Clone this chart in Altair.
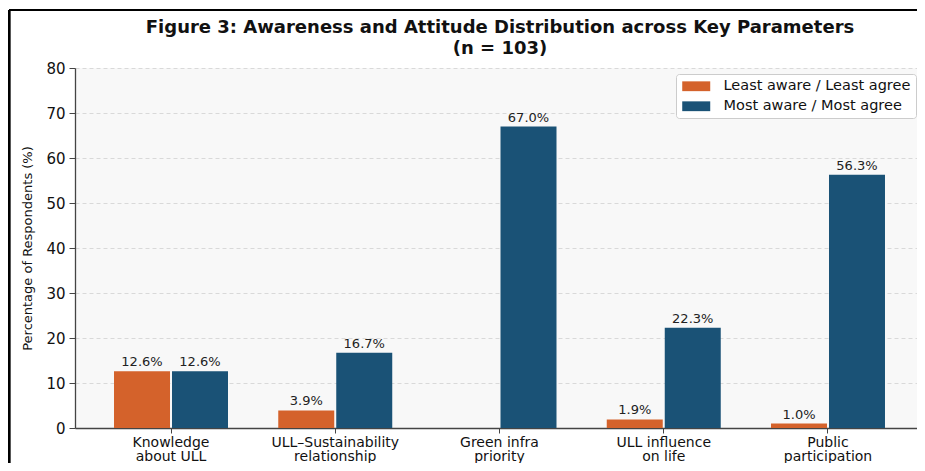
import altair as alt
import pandas as pd

categories = ["Knowledge about ULL", "ULL–Sustainability relationship", "Green infra priority",
              "ULL influence on life", "Public participation"]
tick_labels = [["Knowledge", "about ULL"], ["ULL–Sustainability", "relationship"], ["Green infra", "priority"],
               ["ULL influence", "on life"], ["Public", "participation"]]
series = ["Least aware / Least agree", "Most aware / Most agree"]
least = [12.6, 3.9, 0.0, 1.9, 1.0]
most = [12.6, 16.7, 67.0, 22.3, 56.3]
colors = ["#D4622B", "#1A5276"]
y_ticks = [0, 10, 20, 30, 40, 50, 60, 70, 80]

rows = []
for c, a, b in zip(categories, least, most):
    rows.append({"category": c, "series": series[0], "value": a})
    rows.append({"category": c, "series": series[1], "value": b})
df = pd.DataFrame(rows)

label_expr = ""
for c, tl in zip(categories, tick_labels):
    label_expr += "datum.value == '%s' ? ['%s', '%s'] : " % (c, tl[0], tl[1])
label_expr += "datum.label"

W, H = 842, 360
XR = 849
FONT = "DejaVu Sans"

x_enc = alt.X("category:N", sort=categories,
              scale=alt.Scale(paddingInner=0.306, paddingOuter=0.2375, range=[0, XR]),
              axis=alt.Axis(title=None, labelExpr=label_expr, labelAngle=0, labelFontSize=14,
                            labelColor="#111", labelPadding=2, labelLineHeight=14.5,
                            tickSize=5, tickColor="#444", domainColor="#444", domainWidth=1.3,
                            labelBaseline="top"))
xo_enc = alt.XOffset("series:N", sort=series,
                     scale=alt.Scale(paddingInner=0.0345, paddingOuter=0))
y_enc = alt.Y("value:Q", scale=alt.Scale(domain=[0, 80], nice=False),
              axis=alt.Axis(title="Percentage of Respondents (%)", values=y_ticks,
                            titleFontSize=13, titleFontWeight="normal", titleColor="#111",
                            titlePadding=11, labelFontSize=15, labelColor="#111", labelPadding=4,
                            tickSize=6, tickColor="#444", domainColor="#444", domainWidth=1.3,
                            grid=True, gridDash=[4, 3], gridColor="#d0d0d0", gridWidth=0.8))

bars = alt.Chart(df).mark_bar().encode(
    x=x_enc, xOffset=xo_enc, y=y_enc,
    color=alt.Color("series:N", sort=series,
                    scale=alt.Scale(domain=series, range=colors),
                    legend=alt.Legend(title=None, orient="none", legendX=601, legendY=6,
                                      labelFontSize=14.5, labelColor="#111", labelFont=FONT,
                                      labelLimit=400,
                                      symbolType="M-0.86,-0.7L3.14,-0.7L3.14,0.7L-0.86,0.7Z",
                                      symbolSize=196, symbolStrokeWidth=0,
                                      labelOffset=28, rowPadding=5,
                                      padding=5, strokeColor="#cccccc", fillColor="white",
                                      cornerRadius=3))
)

labels = alt.Chart(df).transform_filter("datum.value > 0").transform_calculate(
    txt="format(datum.value, '.1f') + '%'"
).mark_text(baseline="alphabetic", dy=-5, fontSize=13, color="#222", font=FONT).encode(
    x=alt.X("category:N", sort=categories), xOffset=alt.XOffset("series:N", sort=series),
    y=alt.Y("value:Q"), text="txt:N"
)

frame_top = alt.Chart(df).mark_rule(color="black", strokeWidth=2.2).encode(
    x=alt.value(-66), x2=alt.value(W + 10), y=alt.value(-58)
)
frame_left = alt.Chart(df).mark_rule(color="black", strokeWidth=2.2).encode(
    x=alt.value(-66), y=alt.value(-58), y2=alt.value(H + 60)
)

chart = alt.layer(bars, labels, frame_top, frame_left).properties(
    width=W, height=H,
    title=alt.Title(["Figure 3: Awareness and Attitude Distribution across Key Parameters", "(n = 103)"],
                    fontSize=18, fontWeight="bold", font=FONT, color="#111",
                    lineHeight=21, offset=0, dy=67, dx=4, baseline="bottom",
                    anchor="middle", frame="group"),
    autosize=alt.AutoSizeParams(type="none"),
    padding={"left": 67, "top": 60, "right": 0, "bottom": 35},
).configure(font=FONT, background="white").configure_view(
    fill="#f8f8f8", stroke=None
).configure_axis(labelFont=FONT, titleFont=FONT)

chart.save("out.html", embed_options={"renderer": "svg", "actions": False})
